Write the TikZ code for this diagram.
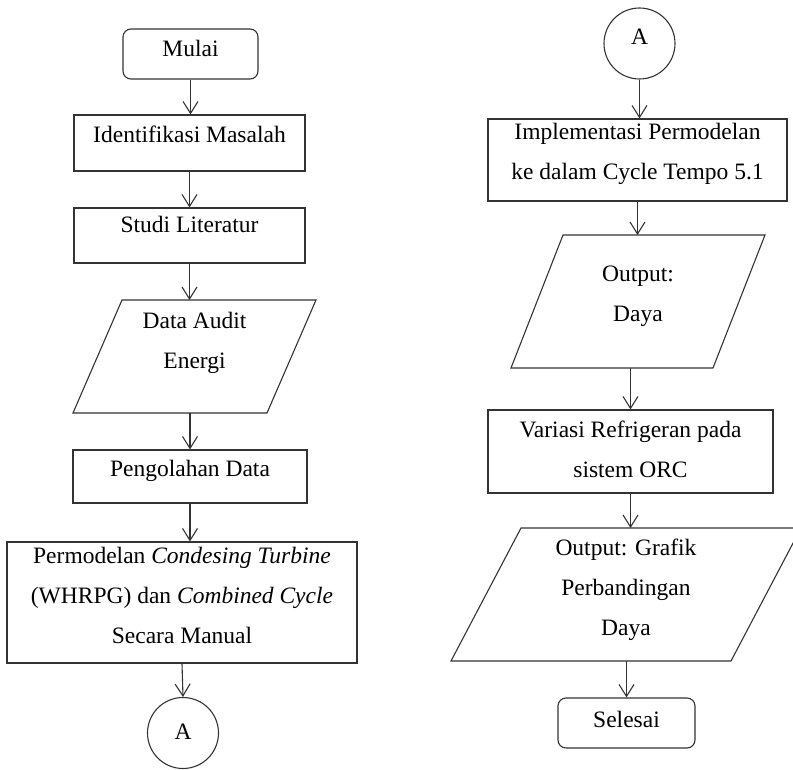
\documentclass[tikz,border=0pt]{standalone}
\usepackage{fontspec}
\setmainfont{Liberation Serif}
\usetikzlibrary{arrows.meta}

\begin{document}
\begin{tikzpicture}[x=1pt,y=-1pt,font=\fontsize{23.5}{40}\selectfont,
  edge/.style={draw=black!80,line width=1.1pt},
  proc/.style={edge,inner sep=0pt,align=center,text height=10pt},
  multi/.style={text depth=10pt,text height=#1},
  term/.style={proc,rounded corners=8pt},
  conn/.style={proc,circle,minimum size=71pt},
  io/.style={inner sep=0pt,outer sep=0pt,align=center},
  arr/.style={edge,-{Straight Barb[length=12pt,width=15pt]}}]
\useasboundingbox (0,0) rectangle (793,770);
\node[term,minimum width=135pt,minimum height=50pt,text depth=4pt] (mulai) at (190.5,54) {Mulai};
\node[proc,minimum width=231pt,minimum height=56pt,text depth=10pt] (ident) at (189.5,143) {Identifikasi Masalah};
\node[proc,minimum width=231pt,minimum height=55pt,text depth=15pt] (studi) at (189.5,235.5) {Studi Literatur};
\node[io,multi=33pt,minimum width=243pt,minimum height=113pt] (audit) at (194.5,356.5) {Data Audit\\Energi};
\node[proc,minimum width=234pt,minimum height=53pt,text depth=11pt] (olah) at (190,476.5) {Pengolahan Data};
\node[proc,multi=91pt,minimum width=350pt,minimum height=121pt] (model) at (182,602.5) {Permodelan \textit{Condesing Turbine}\\(WHRPG) dan \textit{Combined Cycle}\\Secara Manual};
\node[conn,text height=12pt,text depth=0pt] (ka) at (183,733) {A};
\node[conn,text depth=7pt] (kb) at (639.5,43.5) {A};
\node[proc,multi=50pt,minimum width=299pt,minimum height=82pt] (impl) at (637.5,160) {Implementasi Permodelan\\ke dalam Cycle Tempo 5.1};
\node[io,multi=51pt,minimum width=254pt,minimum height=133pt] (daya) at (638,301.5) {Output:\\Daya};
\node[proc,multi=61pt,minimum width=285pt,minimum height=83pt] (orc) at (630.5,451.5) {Variasi Refrigeran pada\\sistem ORC};
\node[io,multi=91pt,minimum width=350pt,minimum height=133pt] (grafik) at (626,594.5) {Output: Grafik\\Perbandingan\\Daya};
\node[term,minimum width=137pt,minimum height=50pt,text depth=2pt] (selesai) at (626.5,723) {Selesai};
\draw[edge] ([xshift=49pt]audit.north west) -- (audit.north east) -- ([xshift=-49pt]audit.south east) -- (audit.south west) -- cycle;
\draw[edge] ([xshift=52pt]daya.north west) -- (daya.north east) -- ([xshift=-52pt]daya.south east) -- (daya.south west) -- cycle;
\draw[edge] ([xshift=70pt]grafik.north west) -- (grafik.north east) -- ([xshift=-70pt]grafik.south east) -- (grafik.south west) -- cycle;
\draw[arr] (mulai.south) -- (mulai.south |- ident.north);
\draw[arr] (ident.south) -- (ident.south |- studi.north);
\draw[arr] (studi.south) -- (studi.south |- audit.north);
\draw[arr] (olah.north |- audit.south) -- (olah.north);
\draw[arr] (olah.south) -- (olah.south |- model.north);
\draw[arr] (model.south) -- (ka.north);
\draw[arr] (kb.south) -- (kb.south |- impl.north);
\draw[arr] (impl.south) -- (impl.south |- daya.north);
\draw[arr] (orc.north |- daya.south) -- (orc.north);
\draw[arr] (orc.south) -- (orc.south |- grafik.north);
\draw[arr] (selesai.north |- grafik.south) -- (selesai.north);
\end{tikzpicture}
\end{document}
